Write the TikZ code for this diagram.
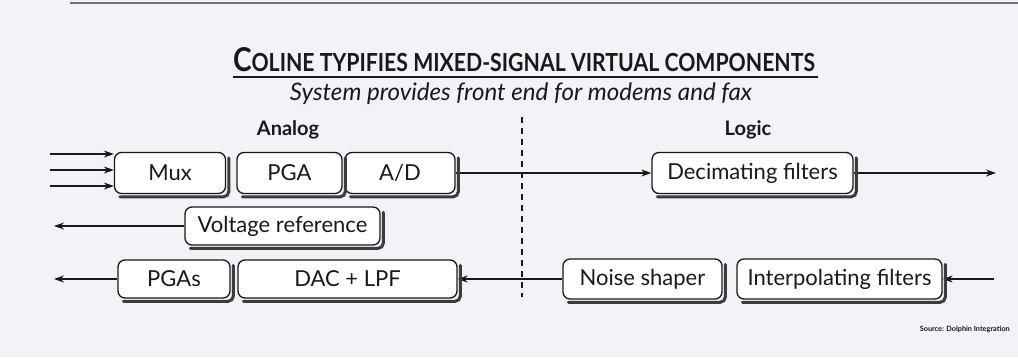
\documentclass[tikz,border=0pt]{standalone}
\usepackage{fontspec}
\setmainfont{Lato}
\usetikzlibrary{arrows.meta}
\definecolor{paper}{RGB}{241,243,247}
\definecolor{ink}{RGB}{25,25,25}
\definecolor{shadowgray}{RGB}{60,60,60}
\begin{document}
\begin{tikzpicture}[x=1pt,y=-1pt,
  blk/.style={draw=ink, line width=1.3pt, rounded corners=7pt, fill=white,
    inner sep=0pt, font=\fontsize{22}{24}\selectfont, text=ink},
  boxshadow/.style={draw=shadowgray, line width=3pt, rounded corners=5pt, line cap=round},
  wire/.style={draw=ink, line width=1.3pt},
  arr/.style={wire, -{Stealth[length=10pt,width=7pt]}},
  hdr/.style={anchor=base, text=ink, inner sep=0pt, font=\fontsize{20}{22}\selectfont\bfseries},
]
\useasboundingbox (0,0) rectangle (1018,357);
\fill[paper] (0,0) rectangle (1018,357);
\draw[black!55, line width=1.2pt] (70,3) -- (1018,3);

% title
\node[text=ink, anchor=base, inner sep=0pt] (title) at (524,71)
  {\resizebox{582pt}{24pt}{\bfseries\fontsize{33}{34}\selectfont C\fontsize{25}{26}\selectfont OLINE TYPIFIES MIXED-SIGNAL VIRTUAL COMPONENTS}};
\draw[ink, line width=1.1pt] (233,77) -- (818,77);
\node[text=ink, anchor=base, inner sep=0pt] (sub) at (521,100)
  {\resizebox{462pt}{!}{\fontsize{22}{24}\selectfont\itshape System provides front end for modems and fax}};

\node[hdr] (analog) at (288,135) {Analog};
\node[hdr] (logic) at (748,135) {Logic};

% divider
\coordinate (dtop) at (522,117);
\coordinate (dbot) at (522,297);
\draw[ink, line width=1.3pt, dash pattern=on 6pt off 5pt] (dtop) -- (dbot);

% row 1
\node[blk, minimum width=111pt, minimum height=41pt] (mux) at (170,173) {Mux};
\node[blk, minimum width=105pt, minimum height=41pt] (pga) at (289.5,173) {PGA};
\node[blk, minimum width=110pt, minimum height=41pt] (ad) at (400,173) {A/D};
\node[blk, minimum width=201pt, minimum height=41pt] (dec) at (752.5,173) {Decimating filters};

\coordinate (i1) at (50,154);
\coordinate (i2) at (50,170);
\coordinate (i3) at (50,186);
\draw[arr] (i1) -- (i1 -| mux.west);
\draw[arr] (i2) -- (i2 -| mux.west);
\draw[arr] (i3) -- (i3 -| mux.west);
\draw[arr] (ad.east) -- (dec.west);
\coordinate (o1) at (996,173);
\draw[arr] (dec.east) -- (o1);

% row 2
\node[blk, minimum width=195pt, minimum height=38pt] (vref) at (282.5,226) {Voltage reference};
\coordinate (o2) at (54,226);
\draw[arr] (vref.west) -- (o2);

% row 3
\node[blk, minimum width=112pt, minimum height=38pt] (pgas) at (174,279) {PGAs};
\node[blk, minimum width=219pt, minimum height=38pt] (dac) at (347.5,279) {DAC + LPF};
\node[blk, minimum width=159pt, minimum height=40pt] (noise) at (642.5,279) {Noise shaper};
\node[blk, minimum width=205pt, minimum height=40pt] (interp) at (839.5,279) {Interpolating filters};
\coordinate (o3) at (54,279);
\coordinate (i4) at (994,279);
\draw[arr] (pgas.west) -- (o3);
\draw[arr] (noise.west) -- (dac.east);
\draw[arr] (i4) -- (interp.east);

% drop shadows along bottom and right edges
\foreach \n in {mux,pga,ad,dec,vref,pgas,dac,noise,interp}
  \draw[boxshadow] ([shift={(6,2.6)}]\n.south west) -- ([shift={(2.6,2.6)}]\n.south east) -- ([shift={(2.6,6)}]\n.north east);

% source
\node[anchor=base east, inner sep=0pt, text=ink] (src) at (1010,331) {\resizebox{90pt}{!}{\bfseries\fontsize{8}{9}\selectfont Source: Dolphin Integration}};
\end{tikzpicture}
\end{document}
